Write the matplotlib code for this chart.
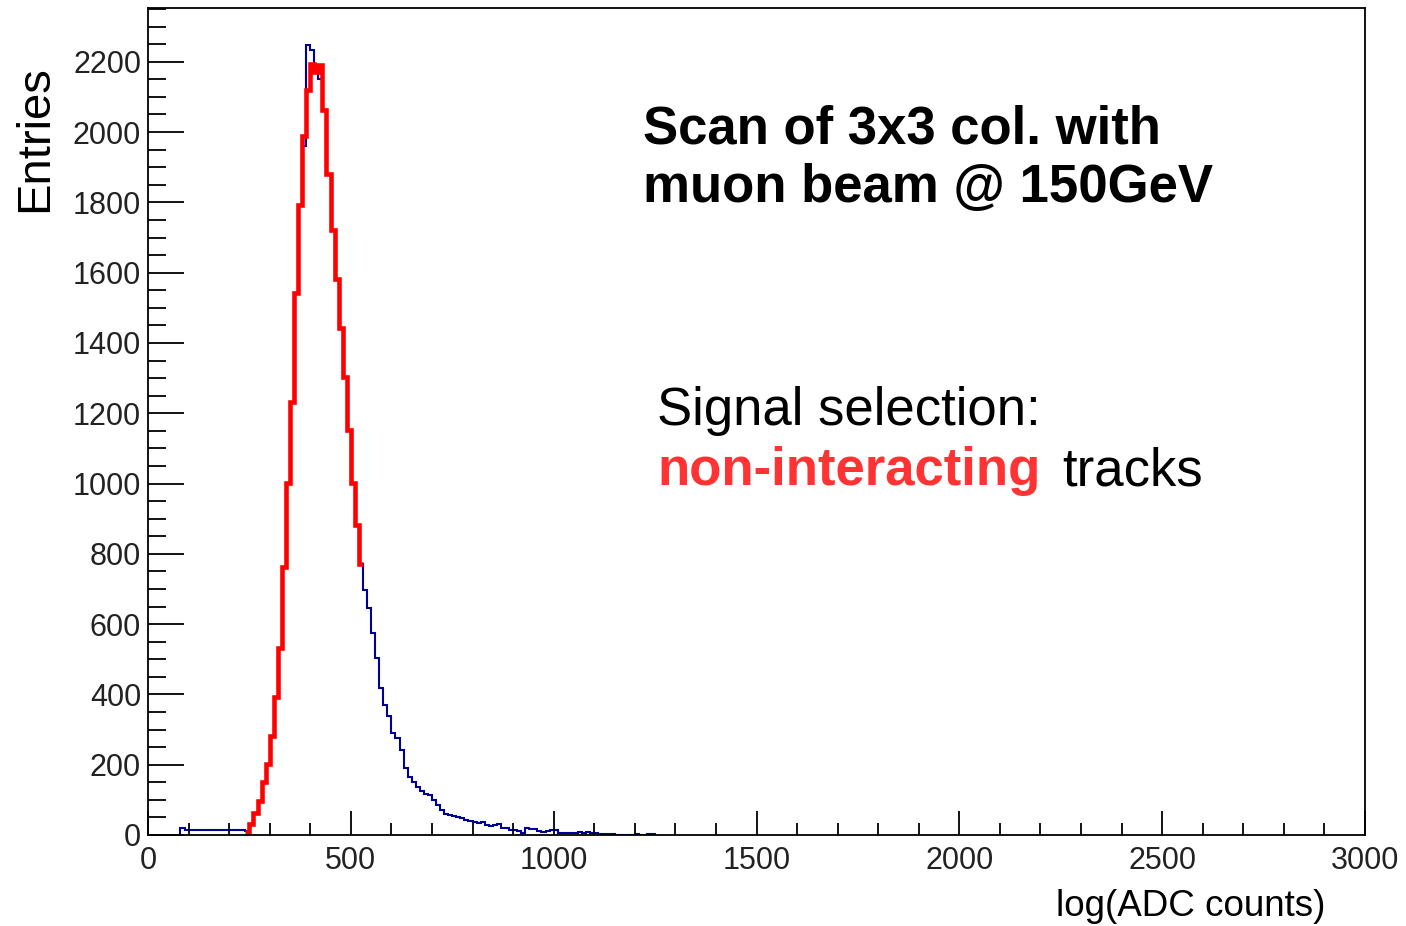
import matplotlib
matplotlib.use("Agg")
import matplotlib.pyplot as plt
from matplotlib import font_manager
from matplotlib.ticker import MultipleLocator
import numpy as np

# histogram: bin width 10, first bin starts at 80
bin_lo = 80
bin_w = 10
blue_counts = [20, 14, 13, 13, 13, 13, 13, 13, 13, 13, 13, 13, 13, 13, 13, 13,
               10, 30, 60, 95, 148, 200, 280, 390, 530, 760,
               1000, 1230, 1540, 1790, 1960, 2248, 2234, 2175, 2150, 2063,
               1880, 1720, 1580, 1440, 1300, 1150, 1000, 880, 770, 697,
               646, 575, 504, 418, 370, 340, 290, 276, 242, 191,
               165, 151, 137, 125, 118, 114, 100, 85, 71, 60,
               57, 55, 52, 47, 43, 40, 38, 35, 38, 28,
               26, 28, 31, 19, 19, 14, 14, 12, 7, 19,
               16, 16, 12, 9, 12, 14, 14, 7, 7, 6,
               5, 6, 8, 7, 8, 6, 5, 4, 3, 4,
               2, 0, 1, 0, 0, 0, 2, 0, 0, 2, 2]

# selected (non-interacting) sample, bins 240..520
red_lo = 240
red_counts = [8, 32, 62, 97, 150, 202, 282, 392, 532, 762,
              1002, 1232, 1542, 1792, 1990, 2120, 2195, 2170, 2190, 2063,
              1882, 1722, 1582, 1442, 1302, 1152, 1002, 882, 772]

blue_edges = bin_lo + bin_w * np.arange(len(blue_counts) + 1)
red_edges = red_lo + bin_w * np.arange(len(red_counts) + 1)

names = {f.name for f in font_manager.fontManager.ttflist}
narrow = "Liberation Sans Narrow" in names
ann_font = ["Liberation Sans Narrow", "Liberation Sans"] if narrow else ["Liberation Sans"]
ann_size = 46.5 if narrow else 38

plt.rcParams["font.family"] = ["Liberation Sans", "DejaVu Sans"]

W, H = 1406, 926
fig = plt.figure(figsize=(W / 100, H / 100), dpi=100)
ax = fig.add_axes([148 / W, 1 - 835 / H, (1365 - 148) / W, (835 - 8) / H])

ax.stairs(blue_counts, blue_edges, color="#000099", linewidth=1.5, baseline=0)
ax.stairs(red_counts, red_edges, color="#ff0000", linewidth=3.3, baseline=None)

ax.set_xlim(0, 3000)
ax.set_ylim(0, 2353)

ax.xaxis.set_major_locator(MultipleLocator(500))
ax.xaxis.set_minor_locator(MultipleLocator(100))
ax.yaxis.set_major_locator(MultipleLocator(200))
ax.yaxis.set_minor_locator(MultipleLocator(50))

ax.tick_params(axis="both", which="both", direction="in", width=1.3, color="black",
               labelcolor="#222222", labelsize=22)
ax.tick_params(axis="y", which="major", length=26, pad=5)
ax.tick_params(axis="y", which="minor", length=13)
ax.tick_params(axis="x", which="major", length=17, pad=8)
ax.tick_params(axis="x", which="minor", length=8.5)
ax.tick_params(top=False, right=False)
for s in ax.spines.values():
    s.set_linewidth(1.3)


def fx(x):
    return x / W


def fy(y):
    return 1 - y / H


fig.text(fx(35), fy(65), "Entries", rotation=90, ha="center", va="top", fontsize=34)
fig.text(fx(1325), fy(906), "log(ADC counts)", ha="right", va="center", fontsize=26.5)

fig.text(fx(643), fy(143), "Scan of 3x3 col. with", family=ann_font, fontweight="bold",
         fontsize=ann_size, va="baseline")
fig.text(fx(643), fy(202), "muon beam @ 150GeV", family=ann_font, fontweight="bold",
         fontsize=ann_size, va="baseline")
fig.text(fx(657), fy(425), "Signal selection:", family=ann_font,
         fontsize=ann_size, va="baseline")
fig.text(fx(657), fy(485), "non-interacting", family=ann_font, fontweight="bold",
         color="#ff3333", fontsize=ann_size, va="baseline")
fig.text(fx(1062), fy(485), "tracks", family=ann_font,
         fontsize=ann_size, va="baseline")

fig.savefig("out.png", dpi=100)
